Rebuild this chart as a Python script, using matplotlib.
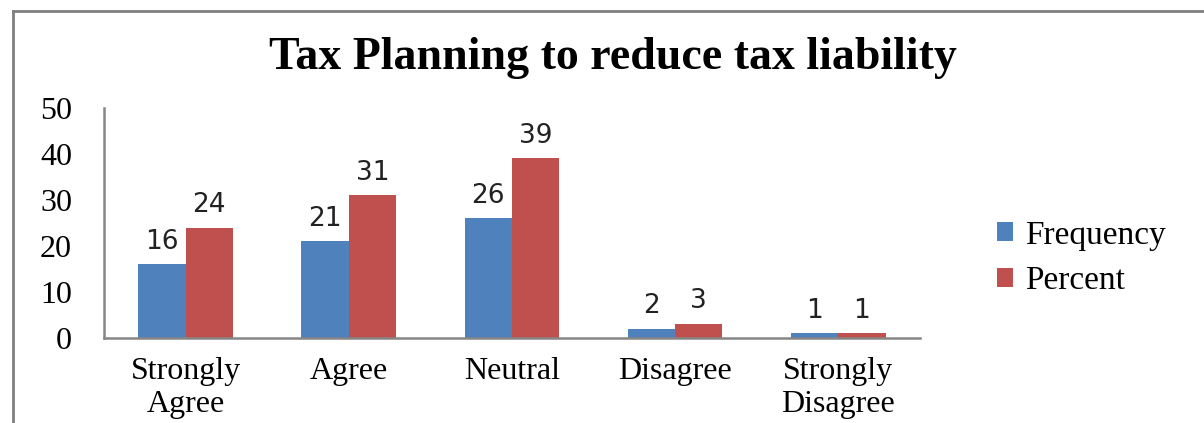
import numpy as np
import matplotlib.pyplot as plt
from matplotlib.lines import Line2D

categories = ["Strongly\nAgree", "Agree", "Neutral", "Disagree", "Strongly\nDisagree"]
frequency = [16, 21, 26, 2, 1]
percent = [24, 31, 39, 3, 1]

blue = "#4F81BD"
red = "#C0504D"
serif = ["Liberation Serif", "DejaVu Serif"]

fig = plt.figure(figsize=(12.04, 4.23), dpi=100)
ax = fig.add_axes([0.0864, 0.201, 0.6776, 0.544])

x = np.arange(len(categories))
w = 0.29
b1 = ax.bar(x - w / 2, frequency, w, color=blue, label="Frequency")
b2 = ax.bar(x + w / 2, percent, w, color=red, label="Percent")

for bars, vals in ((b1, frequency), (b2, percent)):
    for r, v in zip(bars, vals):
        ax.annotate(str(v), (r.get_x() + r.get_width() / 2, r.get_height()),
                    xytext=(0, 7), textcoords="offset points",
                    ha="center", va="bottom", fontsize=19, family="DejaVu Sans",
                    color="#222222")

ax.set_xlim(-0.5, 4.5)
ax.set_ylim(0, 50)
ax.set_yticks(range(0, 51, 10))
ax.set_xticks(x)
ax.set_xticklabels(categories, family=serif, fontsize=23, linespacing=1.15)
for t in ax.get_yticklabels():
    t.set_family(serif)
    t.set_fontsize(23)
ax.tick_params(axis="both", length=0)
ax.tick_params(axis="y", pad=23)
ax.tick_params(axis="x", pad=14)

for s in ("top", "right"):
    ax.spines[s].set_visible(False)
for s in ("left", "bottom"):
    ax.spines[s].set_color("#868686")
    ax.spines[s].set_linewidth(1.8)

fig.text(0.509, 0.862, "Tax Planning to reduce tax liability", ha="center", va="center",
         family=serif, fontweight="bold", fontsize=33)

fig.legend(handles=[b1, b2], loc="center left", bbox_to_anchor=(0.803, 0.39),
           frameon=False, prop={"family": serif, "size": 24},
           handlelength=0.5, handleheight=0.5, handletextpad=0.35, labelspacing=0.45)

# outer frame
fig.add_artist(Line2D([0.011, 0.011], [0, 0.974], transform=fig.transFigure,
                      color="#808080", lw=2))
fig.add_artist(Line2D([0.011, 1.0], [0.974, 0.974], transform=fig.transFigure,
                      color="#808080", lw=2))

fig.savefig("out.png", dpi=100)
